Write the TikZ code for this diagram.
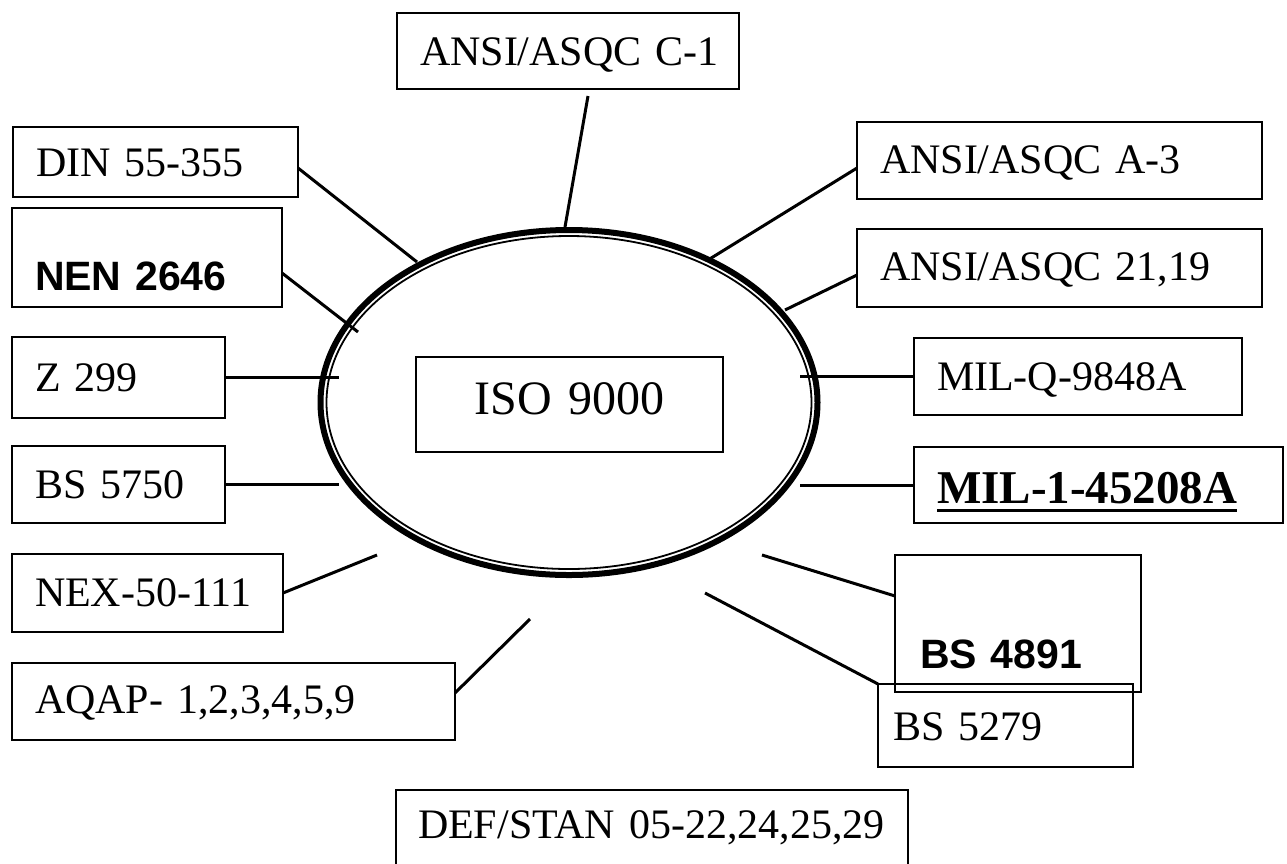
\documentclass[tikz,border=0pt]{standalone}
\usepackage{fontspec}
\setmainfont{Liberation Serif}
\newfontfamily\arialfont{Liberation Sans}
\newcommand{\ulbox}[1]{\setbox0\hbox{#1}\rlap{\rule[-9pt]{\wd0}{3pt}}\box0}
\begin{document}
\begin{tikzpicture}[x=1pt,y=-1pt,
  box/.style={draw, line width=2.7pt, anchor=north west, inner xsep=23pt, inner ysep=0pt,
    outer sep=0pt, align=left, text depth=0pt, font=\fontsize{42}{50}\selectfont},
  conn/.style={line width=3pt}]
\useasboundingbox (0,0) rectangle (1287,863);

% central ring
\coordinate (ctr) at (569,402.5);
\draw[line width=6pt] (ctr) ellipse [x radius=248.5, y radius=172.5];
\draw[line width=1.8pt] (ctr) ellipse [x radius=242.5, y radius=166.5];

% boxes
\node[box, text width=296pt, minimum height=76pt, text height=28pt] (c1) at (397,13) {\mbox{ANSI/ASQC C-1}};
\node[box, text width=239pt, minimum height=70pt, text height=28pt] (din) at (13,127) {\mbox{DIN 55-355}};
\node[box, text width=224pt, minimum height=99pt, text height=65pt,
  font=\arialfont\bfseries\fontsize{41}{48}\selectfont] (nen) at (12,208) {\mbox{NEN 2646}};
\node[box, text width=167pt, minimum height=81pt, text height=28pt] (z) at (12,337) {Z 299};
\node[box, text width=167pt, minimum height=77pt, text height=27pt] (bs5750) at (12,446) {BS 5750};
\node[box, text width=225pt, minimum height=78pt, text height=26pt] (nex) at (12,554) {\mbox{NEX-50-111}};
\node[box, text width=397pt, minimum height=77pt, text height=23pt] (aqap) at (12,663) {\mbox{AQAP- 1,2,3,4,5,9}};
\node[box, text width=359pt, minimum height=77pt, text height=25pt] (a3) at (857,122) {\mbox{ANSI/ASQC A-3}};
\node[box, text width=359pt, minimum height=78pt, text height=24pt] (a21) at (857,229) {\mbox{ANSI/ASQC 21,19}};
\node[box, text width=282pt, minimum height=77pt, text height=27pt] (milq) at (914,338) {\mbox{MIL-Q-9848A}};
\node[box, text width=323pt, minimum height=76pt, text height=36pt,
  font=\bfseries\fontsize{47}{54}\selectfont] (mil1) at (914,447) {\ulbox{MIL-1-45208A}};
\node[box, inner xsep=25pt, text width=196pt, minimum height=137pt, text height=89pt,
  font=\arialfont\bfseries\fontsize{41}{48}\selectfont] (bs4891) at (895,555) {\mbox{BS 4891}};
\node[box, inner xsep=15pt, text width=225pt, minimum height=83pt, text height=29pt] (bs5279) at (878,684) {\mbox{BS 5279}};
\node[box, inner xsep=22pt, text width=468pt, minimum height=100pt, text height=0pt, text depth=4pt] (def) at (396,790) {\mbox{DEF/STAN 05-22,24,25,29}};
\node[box, align=center, inner xsep=0pt, text width=307pt, minimum height=95pt, text height=19pt,
  font=\fontsize{48}{56}\selectfont] (iso) at (416,357) {ISO 9000};

% free ends near the ring
\coordinate (c1a) at (588,96);
\coordinate (c1E) at (565,227);
\coordinate (dinE) at (417,262);
\coordinate (nenE) at (358,332);
\coordinate (zE) at (339,376);
\coordinate (bsE) at (339,485);
\coordinate (nexE) at (377,555);
\coordinate (aqE) at (530,619);
\coordinate (a3E) at (708,260);
\coordinate (a21E) at (785,310);
\coordinate (milqE) at (800,376);
\coordinate (mil1E) at (800,483);
\coordinate (b48E) at (762,555);
\coordinate (b52E) at (705,593);

% connectors
\draw[conn] (c1a) -- (c1E);
\draw[conn] ([yshift=-6pt]din.east) -- (dinE);
\draw[conn] ([yshift=-15.5pt]nen.east) -- (nenE);
\draw[conn] (z.east) -- (z.east -| zE);
\draw[conn] (bs5750.east) -- (bs5750.east -| bsE);
\draw[conn] (nex.east) -- (nexE);
\draw[conn] ([yshift=8.5pt]aqap.east) -- (aqE);
\draw[conn] ([yshift=-7.5pt]a3.west) -- (a3E);
\draw[conn] ([yshift=-7pt]a21.west) -- (a21E);
\draw[conn] (milq.west) -- (milq.west -| milqE);
\draw[conn] (mil1.west) -- (mil1.west -| mil1E);
\draw[conn] ([yshift=27.5pt]bs4891.west) -- (b48E);
\draw[conn] (bs5279.north west) -- (b52E);
\end{tikzpicture}
\end{document}
